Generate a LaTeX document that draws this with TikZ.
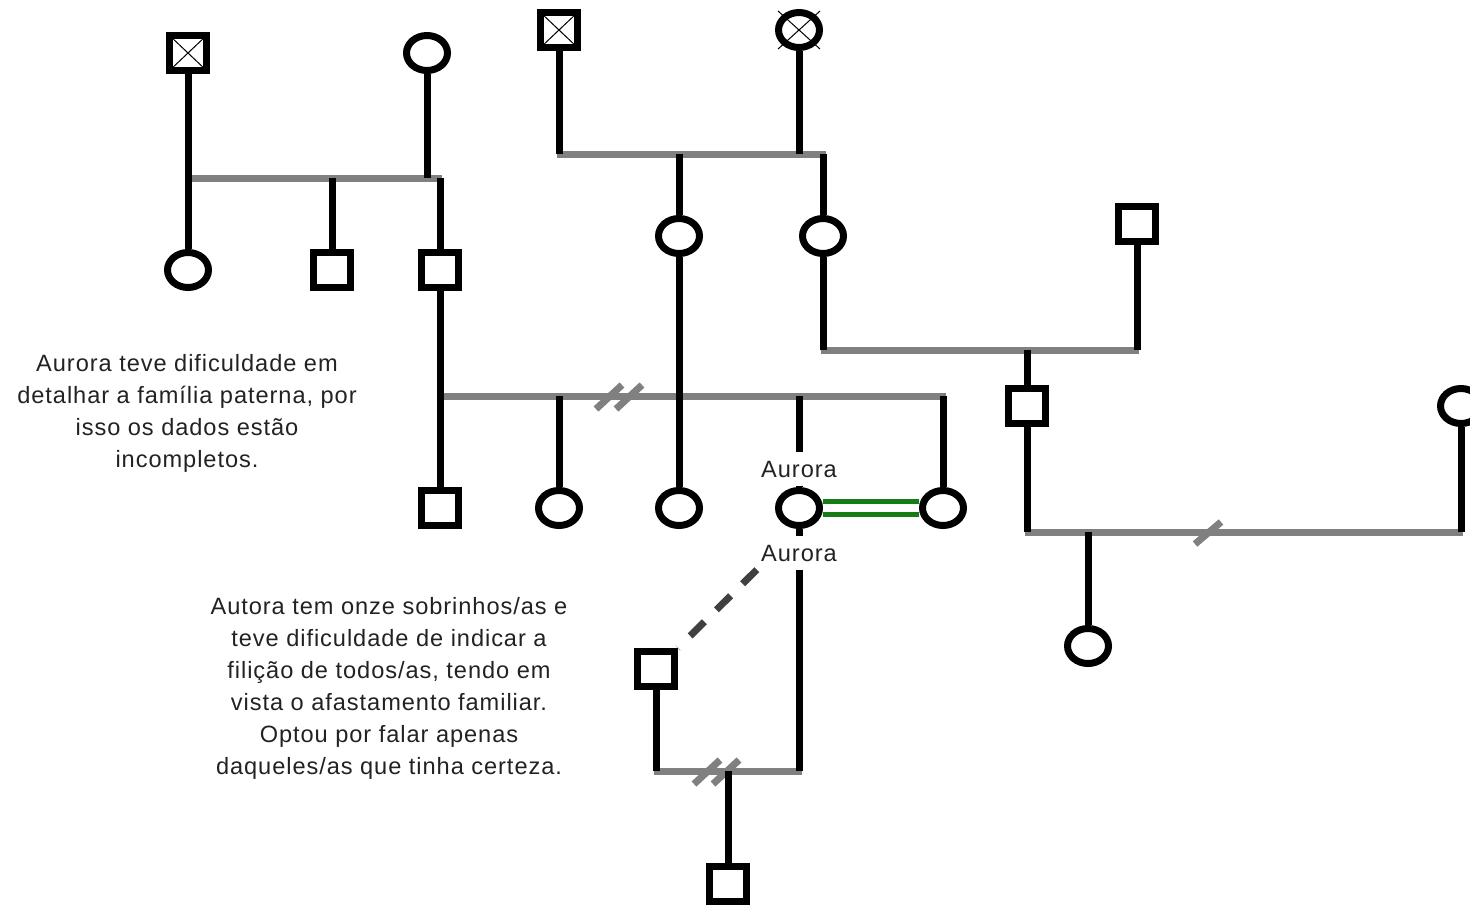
\documentclass[tikz,border=0pt]{standalone}
\usepackage{fontspec}
\setmainfont{Liberation Sans}[LetterSpace=4]
\usetikzlibrary{shapes.geometric}
\definecolor{lgray}{RGB}{128,128,128}
\definecolor{dgreen}{RGB}{20,125,20}
\definecolor{txt}{RGB}{34,34,34}
\definecolor{dashc}{RGB}{64,64,64}
\tikzset{
 sq/.style={draw=black, line width=3.5pt, rectangle, minimum width=18.5pt, minimum height=17.5pt, inner sep=0pt, fill=white},
 ci/.style={draw=black, line width=3.5pt, ellipse, minimum width=20.5pt, minimum height=17.5pt, inner sep=0pt, fill=white},
 xsq/.style={sq, path picture={\draw[line width=0.5pt] (path picture bounding box.south west) -- (path picture bounding box.north east) (path picture bounding box.north west) -- (path picture bounding box.south east);}},
 vline/.style={draw=black, line width=3.5pt},
 gline/.style={draw=lgray, line width=3.5pt},
 slashmark/.style={draw=lgray, line width=3.5pt},
 lbl/.style={font=\fontsize{11.8pt}{16pt}\selectfont, text=txt, inner sep=0pt},
 auro/.style={lbl, inner xsep=2pt, inner ysep=4pt},
 greendouble/.style={draw=dgreen, line width=2.5pt, double=white, double distance=4pt},
 dashlink/.style={draw=dashc, line width=3.5pt, dash pattern=on 10pt off 8.5pt},
}
\begin{document}
\begin{tikzpicture}[x=0.5pt,y=-0.5pt]
\useasboundingbox (0,0) rectangle (1470,906);
% ---- nodes ----
\node[xsq] (gfA) at (188,53) {};
\node[ci]  (gmB) at (427,53) {};
\node[ci]  (c1) at (188,270) {};
\node[sq]  (c2) at (332,270) {};
\node[sq]  (F) at (440,270) {};
\node[xsq] (gfC) at (559,30) {};
\node[ci]  (gmD) at (799,30) {};
\node[ci]  (m1) at (679,236) {};
\node[ci]  (m2) at (823,236) {};
\node[sq]  (r1) at (1137,224) {};
\node[sq]  (h1) at (1027,406) {};
\node[ci]  (w1) at (1461,406) {};
\node[ci]  (k1) at (1088,646) {};
\node[sq]  (s1) at (440,508) {};
\node[ci]  (s2) at (559,508) {};
\node[ci]  (s3) at (679,508) {};
\node[ci]  (aurora) at (799,508) {};
\node[ci]  (sp) at (943,508) {};
\node[auro] (aurUp) at (799,469) {Aurora};
\node[auro] (aurDown) at (799,553) {Aurora};
\node[sq]  (n1) at (656,669) {};
\node[sq]  (n2) at (728,884) {};
\draw[line width=0.5pt] ([shift={(-21,-19)}]gmD.center) -- ([shift={(21,19)}]gmD.center)
  ([shift={(-21,19)}]gmD.center) -- ([shift={(21,-19)}]gmD.center);
% ---- junction coordinates ----
\coordinate (L1a) at (186,178); \coordinate (L1b) at (442,178);
\coordinate (L1m) at (332,178); \coordinate (L1w) at (427,178); \coordinate (L1f) at (440,178); \coordinate (L1h) at (188,178);
\coordinate (L2a) at (557,154); \coordinate (L2b) at (826,154);
\coordinate (L2c) at (559,154); \coordinate (L2d) at (799,154); \coordinate (L2e) at (679,154); \coordinate (L2f) at (823,154);
\coordinate (L3a) at (438,396); \coordinate (L3b) at (946,396);
\coordinate (L3c) at (559,396); \coordinate (L3d) at (799,396); \coordinate (L3e) at (943,396);
\coordinate (L4a) at (821,350); \coordinate (L4b) at (1139,350);
\coordinate (L4c) at (823,350); \coordinate (L4d) at (1137,350); \coordinate (L4e) at (1027,350);
\coordinate (L5a) at (1025,532); \coordinate (L5b) at (1463,532);
\coordinate (L5c) at (1027,532); \coordinate (L5d) at (1461,532); \coordinate (L5e) at (1088,532);
\coordinate (L6a) at (654,771); \coordinate (L6b) at (802,771);
\coordinate (L6c) at (656,771); \coordinate (L6d) at (799,771); \coordinate (L6e) at (728,771);
% ---- gray partnership lines ----
\draw[gline] (L1a) -- (L1b);
\draw[gline] (L2a) -- (L2b);
\draw[gline] (L3a) -- (L3b);
\draw[gline] (L4a) -- (L4b);
\draw[gline] (L5a) -- (L5b);
\draw[gline] (L6a) -- (L6b);
% ---- slash marks ----
\draw[slashmark] (609,397) +(-13,12) -- +(13,-12);
\draw[slashmark] (629,397) +(-13,12) -- +(13,-12);
\draw[slashmark] (707,772) +(-13,12) -- +(13,-12);
\draw[slashmark] (726,772) +(-13,12) -- +(13,-12);
\draw[slashmark] (1208,533) +(-13,11) -- +(13,-11);
% ---- black descent lines ----
\draw[vline] (gfA.south) -- (L1h);
\draw[vline] (L1h) -- (c1.north);
\draw[vline] (gmB.south) -- (L1w);
\draw[vline] (L1m) -- (c2.north);
\draw[vline] (L1f) -- (F.north);
\draw[vline] (F.south) -- (s1.north);
\draw[vline] (gfC.south) -- (L2c);
\draw[vline] (gmD.south) -- (L2d);
\draw[vline] (L2e) -- (m1.north);
\draw[vline] (m1.south) -- (s3.north);
\draw[vline] (L2f) -- (m2.north);
\draw[vline] (m2.south) -- (L4c);
\draw[vline] (r1.south) -- (L4d);
\draw[vline] (L4e) -- (h1.north);
\draw[vline] (h1.south) -- (L5c);
\draw[vline] (w1.south) -- (L5d);
\draw[vline] (L5e) -- (k1.north);
\draw[vline] (L3c) -- (s2.north);
\draw[vline] (L3e) -- (sp.north);
\draw[vline] (L3d) -- (aurUp.north);
\draw[vline] (aurUp.south) -- (aurora.north);
\draw[vline] (aurora.south) -- (aurDown.north);
\draw[vline] (aurDown.south) -- (L6d);
\draw[vline] (n1.south) -- (L6c);
\draw[vline] (L6e) -- (n2.north);
% ---- union and dashed link ----
\draw[greendouble] (aurora.east) -- (sp.west);
\draw[dashlink] (aurDown.south west) -- (n1.north east);
% ---- notes ----
\node[lbl, align=center] (note1) at (187,413) {Aurora teve dificuldade em\\detalhar a família paterna, por\\isso os dados estão\\incompletos.};
\node[lbl, align=center] (note2) at (389,688) {Autora tem onze sobrinhos/as e\\teve dificuldade de indicar a\\filição de todos/as, tendo em\\vista o afastamento familiar.\\Optou por falar apenas\\daqueles/as que tinha certeza.};
\end{tikzpicture}
\end{document}
